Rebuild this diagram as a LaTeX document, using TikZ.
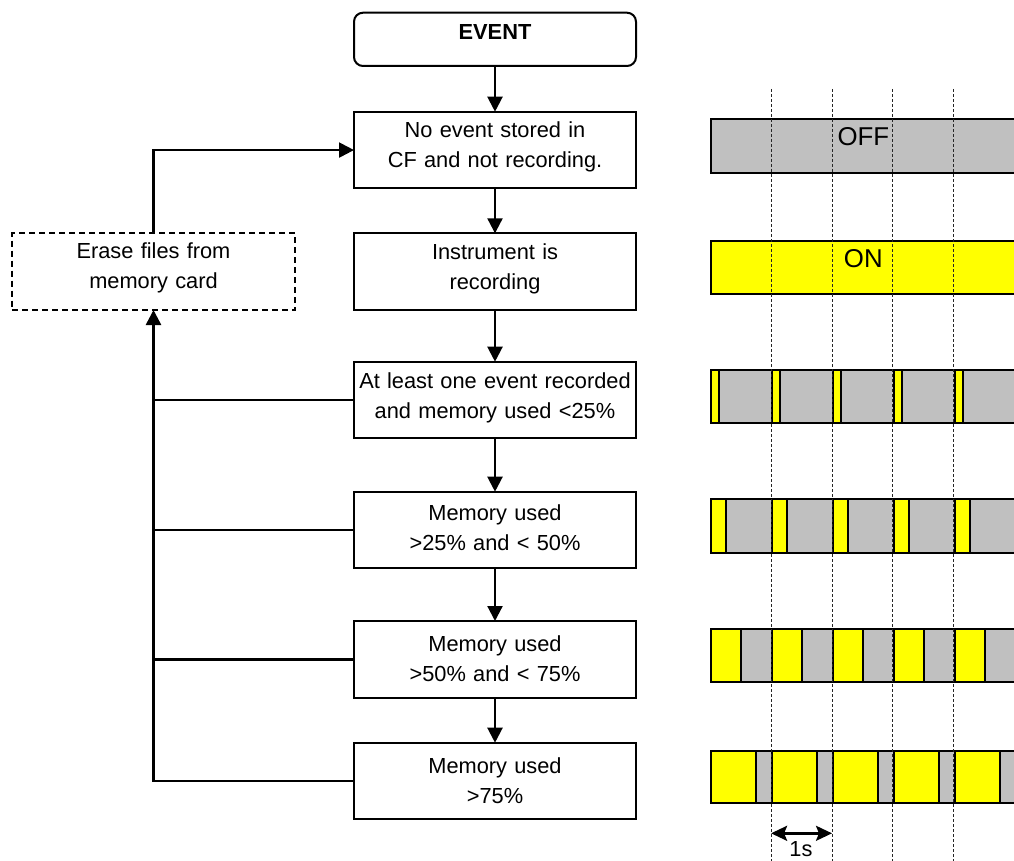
\documentclass[tikz,border=0pt]{standalone}
\usepackage{fontspec}
\setmainfont{Liberation Sans}
\usetikzlibrary{arrows.meta}
\definecolor{bargray}{HTML}{C0C0C0}
\definecolor{baryellow}{HTML}{FFFF00}
\newcommand\bxfont{\fontsize{21.8pt}{30pt}\selectfont}
\newcommand\barfont{\fontsize{25.8pt}{30pt}\selectfont}
\begin{document}
\begin{tikzpicture}[x=1pt,y=-1pt,
  flow/.style 2 args={draw, line width=2pt, inner sep=0pt, outer sep=0pt,
    text width=282pt, align=center, text height=#1, text depth=#2, font=\bxfont},
  conn/.style={line width=2.2pt, -{Triangle[length=15pt,width=15pt]}},
  branch/.style={line width=2.5pt},
  tick/.style={line width=1pt, dash pattern=on 3pt off 2pt, black!85},
  barline/.style={line width=2pt},
  span/.style={line width=2.4pt, {Stealth[length=16pt,width=15pt,inset=3pt]}-{Stealth[length=16pt,width=15pt,inset=3pt]}},
]
\useasboundingbox (0,0) rectangle (1014,861);

% ---------- flowchart ----------
\node[flow={27.3pt}{26pt}, rounded corners=9pt, anchor=north, font=\bxfont\bfseries] (ev) at (495,12.7) {EVENT};
\node[flow={26.3pt}{50.4pt}, anchor=north] (b1) at (495,111.7) {No event stored in\\CF and not recording.};
\node[flow={26pt}{50.7pt}, anchor=north] (b2) at (495,233.3) {Instrument is\\recording};
\node[flow={26.7pt}{50pt}, anchor=north] (b3) at (495,361.7) {At least one event recorded\\and memory used <25\%};
\node[flow={28.3pt}{48.4pt}, anchor=north] (b4) at (495,491.7) {Memory used\\>25\% and < 50\%};
\node[flow={30.7pt}{46pt}, anchor=north] (b5) at (495,621) {Memory used\\>50\% and < 75\%};
\node[flow={30.7pt}{46pt}, anchor=north] (b6) at (495,742.7) {Memory used\\>75\%};
\node[flow={25.5pt}{51.2pt}, text width=283pt, line width=1.8pt, dash pattern=on 6pt off 4pt, anchor=north] (er) at (153.5,233.3) {Erase files from\\memory card};

\draw[conn] (ev) -- (b1);
\draw[conn] (b1) -- (b2);
\draw[conn] (b2) -- (b3);
\draw[conn] (b3) -- (b4);
\draw[conn] (b4) -- (b5);
\draw[conn] (b5) -- (b6);
\draw[conn] (er.north) |- (b1.west);
\draw[branch, -{Triangle[length=15pt,width=15pt]}] (b6.west) -| (er.south);
\draw[branch] (b3.west) -- (b3.west -| er.south);
\draw[branch] (b4.west) -- (b4.west -| er.south);
\draw[branch] (b5.west) -- (b5.west -| er.south);

% ---------- bars ----------
\begin{scope}
\clip (700,0) rectangle (1014,861);
\filldraw[barline, fill=bargray] (711,119) rectangle (1030,172.7);
\filldraw[barline, fill=baryellow] (711,241) rectangle (1030,294);
\foreach \t/\b/\w in {370/423/8, 499/553/15, 629/681.7/30, 750.7/803.3/45}{
  \filldraw[barline, fill=bargray] (711,\t) rectangle (1030,\b);
  \foreach \i in {0,...,4}{
    \filldraw[barline, fill=baryellow] ({711+60.9*\i},\t) rectangle ({711+60.9*\i+\w},\b);
  }
}
\foreach \k in {1,...,4}{
  \draw[tick] ({710.2+60.9*\k},89) -- ({710.2+60.9*\k},861);
}
\end{scope}

\node[font=\barfont, anchor=base, inner sep=0pt] (off) at (863.3,146) {OFF};
\node[font=\barfont, anchor=base, inner sep=0pt] (on) at (863.3,267.3) {ON};

\coordinate (s1) at (771.1,833.3);
\coordinate (s2) at (832,833.3);
\draw[span] (s1) -- (s2);
\node[font=\bxfont, anchor=base, inner sep=0pt] (onesec) at (801,856) {1s};
\end{tikzpicture}
\end{document}
